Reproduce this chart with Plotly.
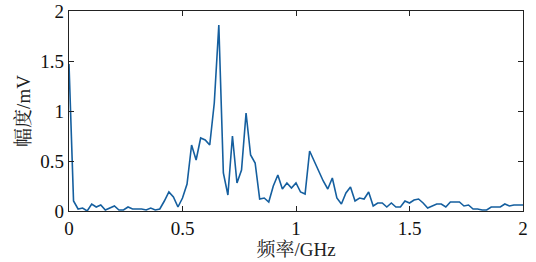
import plotly.graph_objects as go

freq_ghz = [round(i * 0.02, 2) for i in range(101)]
amplitude_mv = [
    1.47, 0.10, 0.02, 0.03, 0.00, 0.07, 0.04, 0.06, 0.01, 0.03,
    0.05, 0.01, 0.01, 0.04, 0.02, 0.02, 0.02, 0.01, 0.03, 0.01,
    0.02, 0.10, 0.19, 0.14, 0.04, 0.13, 0.27, 0.66, 0.51, 0.73,
    0.71, 0.66, 1.08, 1.86, 0.38, 0.16, 0.75, 0.28, 0.41, 0.98,
    0.56, 0.48, 0.12, 0.13, 0.09, 0.25, 0.36, 0.22, 0.28, 0.23,
    0.28, 0.19, 0.17, 0.60, 0.50, 0.40, 0.30, 0.22, 0.33, 0.13,
    0.07, 0.18, 0.24, 0.10, 0.13, 0.12, 0.19, 0.05, 0.08, 0.08,
    0.04, 0.08, 0.04, 0.04, 0.10, 0.08, 0.11, 0.12, 0.08, 0.03,
    0.05, 0.07, 0.07, 0.04, 0.09, 0.09, 0.09, 0.05, 0.06, 0.02,
    0.02, 0.01, 0.01, 0.04, 0.04, 0.04, 0.07, 0.05, 0.06, 0.06,
    0.06,
]
x_ticks = [0, 0.5, 1, 1.5, 2]
x_ticklabels = ["0", "0.5", "1", "1.5", "2"]
y_ticks = [0, 0.5, 1, 1.5, 2]
y_ticklabels = ["0", "0.5", "1", "1.5", "2"]

fig = go.Figure()
fig.add_trace(go.Scatter(
    x=freq_ghz, y=amplitude_mv, mode="lines",
    line=dict(color="#155f9f", width=1.6),
    showlegend=False, hoverinfo="skip",
))

font_family = "'Liberation Serif', 'Noto Serif CJK SC', 'Noto Sans CJK SC', serif"
axis_common = dict(
    showgrid=False, zeroline=False, automargin=False,
    showline=True, linecolor="#222", linewidth=1.2, mirror="ticks",
    ticks="inside", ticklen=5, tickcolor="#222", tickwidth=1,
    tickfont=dict(family=font_family, size=19, color="#111"),
)

fig.update_layout(
    width=536, height=262,
    margin=dict(l=69, r=13, t=11, b=51),
    paper_bgcolor="white", plot_bgcolor="white",
    xaxis=dict(range=[0, 2], tickvals=x_ticks, ticktext=x_ticklabels,
               title=dict(text="频率/GHz", font=dict(family=font_family, size=19, color="#222"), standoff=2),
               **axis_common),
    yaxis=dict(range=[0, 2], tickvals=y_ticks, ticktext=y_ticklabels,
               title=dict(text="幅度/mV", font=dict(family=font_family, size=19, color="#222"), standoff=4),
               **axis_common),
)

fig.write_html("out.html", config={"displayModeBar": False},
               post_script="document.body.style.margin='0';")
